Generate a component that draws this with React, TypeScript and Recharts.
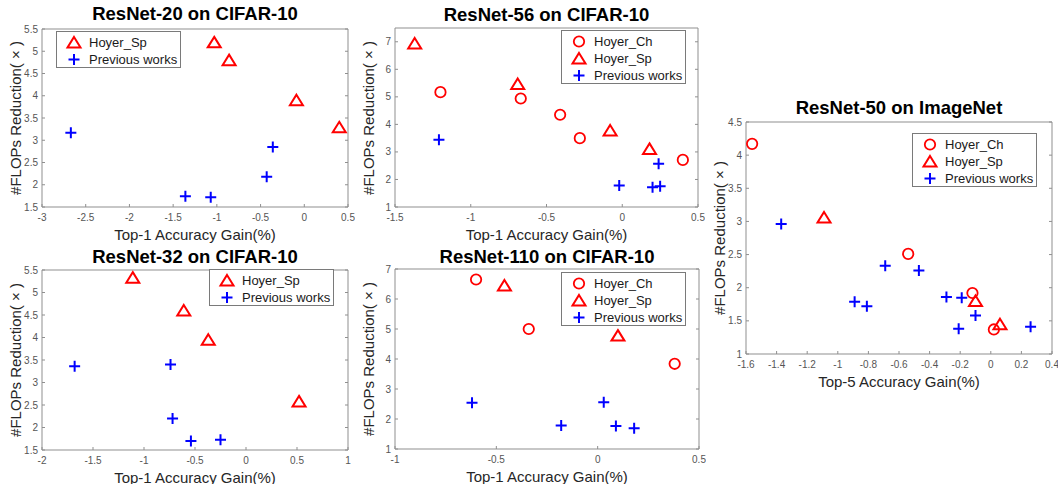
import React from 'react';
import { ScatterChart, Scatter, XAxis, YAxis } from 'recharts';

const RED = '#ff0000';
const BLUE = '#0000ff';
const FONT = '"Liberation Sans", Arial, sans-serif';

// ResNet-20 on CIFAR-10
const r20HoyerSp = [
  { x: -1.03, y: 5.2 }, { x: -0.86, y: 4.8 }, { x: -0.09, y: 3.9 }, { x: 0.4, y: 3.29 },
];
const r20Prev = [
  { x: -2.67, y: 3.17 }, { x: -1.36, y: 1.74 }, { x: -1.07, y: 1.72 }, { x: -0.43, y: 2.18 }, { x: -0.36, y: 2.85 },
];
const r20XTicks = [-3, -2.5, -2, -1.5, -1, -0.5, 0, 0.5];
const r20YTicks = [1.5, 2, 2.5, 3, 3.5, 4, 4.5, 5, 5.5];

// ResNet-56 on CIFAR-10
const r56HoyerCh = [
  { x: -1.2, y: 5.17 }, { x: -0.67, y: 4.94 }, { x: -0.41, y: 4.35 }, { x: -0.28, y: 3.5 }, { x: 0.4, y: 2.71 },
];
const r56HoyerSp = [
  { x: -1.37, y: 6.94 }, { x: -0.69, y: 5.47 }, { x: -0.08, y: 3.78 }, { x: 0.18, y: 3.11 },
];
const r56Prev = [
  { x: -1.21, y: 3.44 }, { x: -0.02, y: 1.78 }, { x: 0.2, y: 1.72 }, { x: 0.25, y: 1.75 }, { x: 0.24, y: 2.57 },
];
const r56XTicks = [-1.5, -1, -0.5, 0, 0.5];
const r56YTicks = [1, 2, 3, 4, 5, 6, 7];

// ResNet-32 on CIFAR-10
const r32HoyerSp = [
  { x: -1.11, y: 5.33 }, { x: -0.61, y: 4.6 }, { x: -0.37, y: 3.95 }, { x: 0.52, y: 2.58 },
];
const r32Prev = [
  { x: -1.68, y: 3.36 }, { x: -0.74, y: 3.4 }, { x: -0.72, y: 2.2 }, { x: -0.54, y: 1.7 }, { x: -0.25, y: 1.73 },
];
const r32XTicks = [-2, -1.5, -1, -0.5, 0, 0.5, 1];
const r32YTicks = [1.5, 2, 2.5, 3, 3.5, 4, 4.5, 5, 5.5];

// ResNet-110 on CIFAR-10
const r110HoyerCh = [
  { x: -0.6, y: 6.65 }, { x: -0.34, y: 5.0 }, { x: 0.38, y: 3.84 },
];
const r110HoyerSp = [
  { x: -0.46, y: 6.45 }, { x: 0.1, y: 4.78 },
];
const r110Prev = [
  { x: -0.62, y: 2.54 }, { x: -0.18, y: 1.78 }, { x: 0.03, y: 2.56 }, { x: 0.09, y: 1.77 }, { x: 0.18, y: 1.69 },
];
const r110XTicks = [-1, -0.5, 0, 0.5];
const r110YTicks = [1, 2, 3, 4, 5, 6, 7];

// ResNet-50 on ImageNet
const r50HoyerCh = [
  { x: -1.56, y: 4.17 }, { x: -0.54, y: 2.51 }, { x: -0.12, y: 1.92 }, { x: 0.02, y: 1.37 },
];
const r50HoyerSp = [
  { x: -1.09, y: 3.06 }, { x: -0.1, y: 1.8 }, { x: 0.06, y: 1.45 },
];
const r50Prev = [
  { x: -1.37, y: 2.96 }, { x: -0.89, y: 1.79 }, { x: -0.81, y: 1.72 }, { x: -0.69, y: 2.33 },
  { x: -0.47, y: 2.26 }, { x: -0.29, y: 1.86 }, { x: -0.19, y: 1.85 }, { x: -0.1, y: 1.58 },
  { x: -0.21, y: 1.38 }, { x: 0.26, y: 1.41 },
];
const r50XTicks = [-1.6, -1.4, -1.2, -1, -0.8, -0.6, -0.4, -0.2, 0, 0.2, 0.4];
const r50YTicks = [1, 1.5, 2, 2.5, 3, 3.5, 4, 4.5];

const Triangle = ({ cx, cy }: any) => (
  <path d={`M${cx},${cy - 5.5} L${cx + 6.5},${cy + 5} L${cx - 6.5},${cy + 5} Z`} fill="none" stroke={RED} strokeWidth={2} />
);
const Circle = ({ cx, cy }: any) => (
  <circle cx={cx} cy={cy} r={5.2} fill="none" stroke={RED} strokeWidth={1.8} />
);
const Plus = ({ cx, cy }: any) => (
  <path d={`M${cx - 5.5},${cy} H${cx + 5.5} M${cx},${cy - 5.5} V${cy + 5.5}`} stroke={BLUE} strokeWidth={2} />
);

const SHAPES: Record<string, any> = { ch: Circle, sp: Triangle, prev: Plus };
const NAMES: Record<string, string> = { ch: 'Hoyer_Ch', sp: 'Hoyer_Sp', prev: 'Previous works' };

const fmt = (v: number) => String(Math.round(v * 10) / 10);

const Legend = ({ left, top, kinds }: any) => (
  <div
    style={{
      position: 'absolute', left, top, width: 125, height: kinds.length * 17 + 3,
      border: '1px solid #7a7a7a', background: '#fff', boxSizing: 'border-box',
    }}
  >
    {kinds.map((k: string, i: number) => {
      const S = SHAPES[k];
      return (
        <div key={k} style={{ position: 'absolute', left: 0, top: 2 + i * 17, height: 17, width: 125 }}>
          <svg width={30} height={17} style={{ position: 'absolute', left: 2, top: 0 }}>
            <S cx={15} cy={8.5} />
          </svg>
          <span style={{ position: 'absolute', left: 32, top: 0, lineHeight: '17px', fontSize: 13, color: '#1a1a1a', fontFamily: FONT, whiteSpace: 'nowrap' }}>
            {NAMES[k]}
          </span>
        </div>
      );
    })}
  </div>
);

const Panel = (p: any) => {
  const ml = 40, mt = 6, mr = 6, mb = 24;
  const tickStyle = { fontSize: 10, fill: '#555555', fontFamily: FONT };
  const cxp = p.px + p.pw / 2;
  return (
    <>
      <div style={{ position: 'absolute', left: p.px - ml - 1, top: p.py - mt - 1 }}>
        <ScatterChart
          width={p.pw + ml + mr + 2}
          height={p.ph + mt + mb + 2}
          margin={{ top: mt, right: mr, bottom: mb, left: ml }}
        >
          <XAxis xAxisId="b" type="number" dataKey="x" domain={p.xDomain} ticks={p.xTicks} allowDataOverflow
            height={1} tickSize={-3} tickMargin={10} tick={tickStyle} tickFormatter={fmt} interval={0}
            stroke="#8f8f8f" />
          <XAxis xAxisId="t" orientation="top" type="number" domain={p.xDomain} ticks={p.xTicks} allowDataOverflow
            height={1} tickSize={-3} tick={() => <g />} interval={0} stroke="#8f8f8f" />
          <YAxis yAxisId="l" type="number" dataKey="y" domain={p.yDomain} ticks={p.yTicks} allowDataOverflow
            width={1} tickSize={-3} tickMargin={7} tick={tickStyle} tickFormatter={fmt} interval={0}
            stroke="#8f8f8f" />
          <YAxis yAxisId="r" orientation="right" type="number" domain={p.yDomain} ticks={p.yTicks} allowDataOverflow
            width={1} tickSize={-3} tick={() => <g />} interval={0} stroke="#8f8f8f" />
          {p.series.map((s: any) => (
            <Scatter key={s.kind} name={NAMES[s.kind]} data={s.data} xAxisId="b" yAxisId="l"
              shape={SHAPES[s.kind]} isAnimationActive={false} />
          ))}
        </ScatterChart>
      </div>
      <div style={{ position: 'absolute', left: cxp, top: p.titleY, transform: 'translate(-50%,-50%)', fontSize: 18.5, fontWeight: 'bold', fontFamily: FONT, color: '#000', whiteSpace: 'nowrap' }}>
        {p.title}
      </div>
      <div style={{ position: 'absolute', left: cxp, top: p.py + p.ph + 27, transform: 'translate(-50%,-50%)', fontSize: 15, fontFamily: FONT, color: '#262626', whiteSpace: 'nowrap' }}>
        {p.xLabel}
      </div>
      <div style={{ position: 'absolute', left: p.px - 27, top: p.py + p.ph / 2, transform: 'translate(-50%,-50%) rotate(-90deg)', fontSize: 15, fontFamily: FONT, color: '#262626', whiteSpace: 'nowrap' }}>
        #FLOPs Reduction( × )
      </div>
      <Legend left={p.legend[0]} top={p.legend[1]} kinds={p.series.map((s: any) => s.kind)} />
    </>
  );
};

export default function App() {
  return (
    <div style={{ position: 'absolute', left: 0, top: 0, width: 1058, height: 484, overflow: 'hidden', background: '#fff' }}>
      <Panel px={42} py={29} pw={306} ph={178} titleY={14} title="ResNet-20 on CIFAR-10" xLabel="Top-1 Accuracy Gain(%)"
        xDomain={[-3, 0.5]} yDomain={[1.5, 5.5]} xTicks={r20XTicks} yTicks={r20YTicks} legend={[56, 31]}
        series={[{ kind: 'sp', data: r20HoyerSp }, { kind: 'prev', data: r20Prev }]} />
      <Panel px={395} py={28} pw={303} ph={179} titleY={15} title="ResNet-56 on CIFAR-10" xLabel="Top-1 Accuracy Gain(%)"
        xDomain={[-1.5, 0.5]} yDomain={[1, 7.5]} xTicks={r56XTicks} yTicks={r56YTicks} legend={[561, 30]}
        series={[{ kind: 'ch', data: r56HoyerCh }, { kind: 'sp', data: r56HoyerSp }, { kind: 'prev', data: r56Prev }]} />
      <Panel px={42} py={270} pw={306} ph={180} titleY={257} title="ResNet-32 on CIFAR-10" xLabel="Top-1 Accuracy Gain(%)"
        xDomain={[-2, 1]} yDomain={[1.5, 5.5]} xTicks={r32XTicks} yTicks={r32YTicks} legend={[209, 269]}
        series={[{ kind: 'sp', data: r32HoyerSp }, { kind: 'prev', data: r32Prev }]} />
      <Panel px={395} py={269} pw={304} ph={180} titleY={257} title="ResNet-110 on CIFAR-10" xLabel="Top-1 Accuracy Gain(%)"
        xDomain={[-1, 0.5]} yDomain={[1, 7]} xTicks={r110XTicks} yTicks={r110YTicks} legend={[561, 272]}
        series={[{ kind: 'ch', data: r110HoyerCh }, { kind: 'sp', data: r110HoyerSp }, { kind: 'prev', data: r110Prev }]} />
      <Panel px={746} py={122} pw={306} ph={232} titleY={108} title="ResNet-50 on ImageNet" xLabel="Top-5 Accuracy Gain(%)"
        xDomain={[-1.6, 0.4]} yDomain={[1, 4.5]} xTicks={r50XTicks} yTicks={r50YTicks} legend={[912, 133]}
        series={[{ kind: 'ch', data: r50HoyerCh }, { kind: 'sp', data: r50HoyerSp }, { kind: 'prev', data: r50Prev }]} />
    </div>
  );
}
